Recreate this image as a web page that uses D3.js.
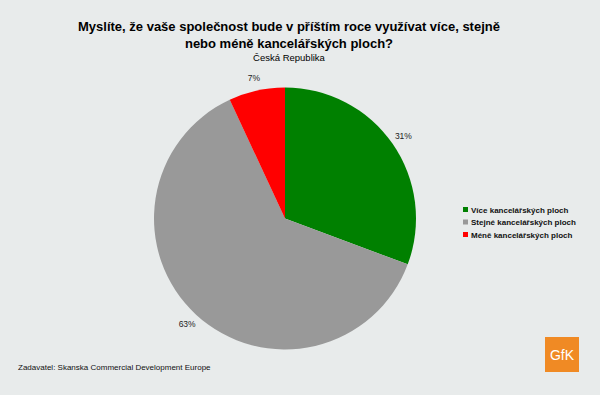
<!DOCTYPE html>
<html>
<head>
<meta charset="utf-8">
<script src="https://cdn.jsdelivr.net/npm/d3@7"></script>
<style>
  body { margin: 0; background: #e8ebeb; }
  svg { display: block; font-family: "Liberation Sans", Arial, sans-serif; }
</style>
</head>
<body>
<div id="chart"></div>
<script>
const categories = ["Více kancelářských ploch", "Stejné kancelářských ploch", "Méně kancelářských ploch"];
const values = [31, 63, 7];
const labels = ["31%", "63%", "7%"];
const colors = ["#008000", "#999999", "#ff0000"];

const width = 600, height = 395;
const cx = 285, cy = 218.5, radius = 131;

const svg = d3.select("#chart").append("svg")
  .attr("width", width)
  .attr("height", height);

svg.append("rect").attr("width", width).attr("height", height).attr("fill", "#e8ebeb");

// title
const title = svg.append("text")
  .attr("text-anchor", "middle")
  .attr("font-weight", "bold")
  .attr("font-size", 13)
  .attr("fill", "#000");
title.append("tspan").attr("x", 289).attr("y", 31)
  .text("Myslíte, že vaše společnost bude v příštím roce využívat více, stejně");
title.append("tspan").attr("x", 289).attr("y", 48)
  .text("nebo méně kancelářských ploch?");

svg.append("text")
  .attr("x", 289).attr("y", 61)
  .attr("text-anchor", "middle")
  .attr("font-size", 9.5)
  .text("Česká Republika");

// pie
const pie = d3.pie().sort(null).value(d => d);
const arc = d3.arc().innerRadius(0).outerRadius(radius);
const arcs = pie(values);

const g = svg.append("g").attr("transform", `translate(${cx},${cy})`);
g.selectAll("path")
  .data(arcs)
  .join("path")
  .attr("d", arc)
  .attr("fill", (d, i) => colors[i]);

const labelArc = d3.arc().innerRadius(radius * 1.1).outerRadius(radius * 1.1);
g.selectAll("text")
  .data(arcs)
  .join("text")
  .attr("transform", d => `translate(${labelArc.centroid(d)})`)
  .attr("text-anchor", "middle")
  .attr("dy", "0.35em")
  .attr("font-size", 8.5)
  .attr("fill", "#222")
  .text((d, i) => labels[i]);

// legend
const legend = svg.append("g").attr("transform", "translate(463,210)");
const row = legend.selectAll("g")
  .data(categories)
  .join("g")
  .attr("transform", (d, i) => `translate(0,${i * 12.5})`);
row.append("rect")
  .attr("x", 0).attr("y", -3)
  .attr("width", 5).attr("height", 5)
  .attr("fill", (d, i) => colors[i]);
row.append("text")
  .attr("x", 8).attr("y", 0)
  .attr("dy", "0.35em")
  .attr("font-size", 8)
  .attr("font-weight", "bold")
  .attr("fill", "#111")
  .text(d => d);

// footer
svg.append("text")
  .attr("x", 18).attr("y", 370)
  .attr("font-size", 8)
  .attr("fill", "#111")
  .text("Zadavatel: Skanska Commercial Development Europe");

// GfK logo
svg.append("rect")
  .attr("x", 545).attr("y", 337)
  .attr("width", 34).attr("height", 35)
  .attr("fill", "#f08a24");
svg.append("text")
  .attr("x", 562).attr("y", 360)
  .attr("text-anchor", "middle")
  .attr("font-size", 14)
  .attr("fill", "#fff")
  .text("GfK");
</script>
</body>
</html>
